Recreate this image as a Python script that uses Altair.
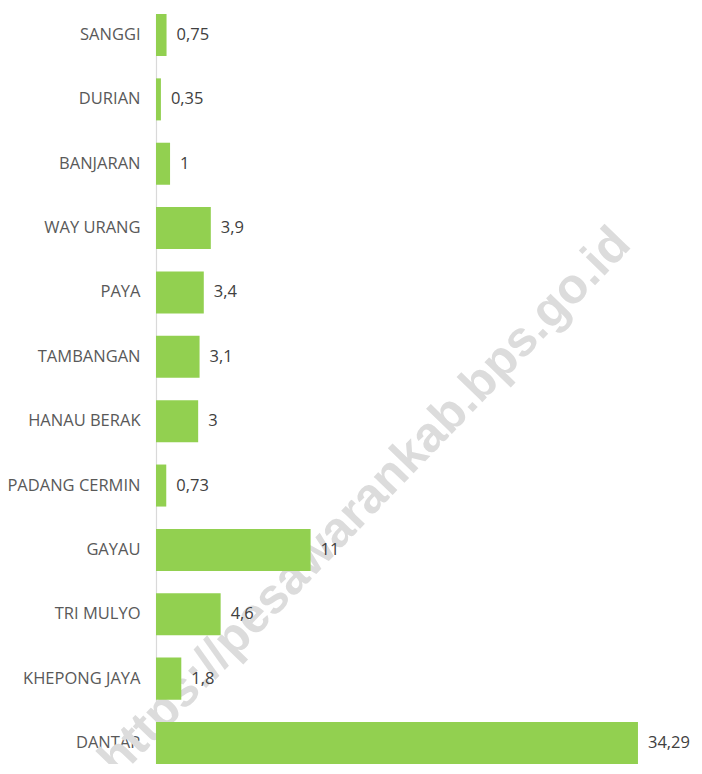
import altair as alt
import pandas as pd

categories = ["SANGGI", "DURIAN", "BANJARAN", "WAY URANG", "PAYA", "TAMBANGAN",
              "HANAU BERAK", "PADANG CERMIN", "GAYAU", "TRI MULYO", "KHEPONG JAYA", "DANTAR"]
values = [0.75, 0.35, 1, 3.9, 3.4, 3.1, 3, 0.73, 11, 4.6, 1.8, 34.29]
labels = [str(v).replace(".", ",") for v in values]
watermark = "https://pesawarankab.bps.go.id"

df = pd.DataFrame({"desa": categories, "nilai": values, "label": labels})
wm = pd.DataFrame({"t": [watermark]})

y_enc = alt.Y("desa:N", sort=categories, title=None,
              scale=alt.Scale(paddingInner=0.347, paddingOuter=0),
              axis=alt.Axis(ticks=False, labelPadding=16, labelFontSize=16.5,
                            labelFont="Open Sans", labelColor="#595959",
                            domainColor="#d9d9d9", domainWidth=1.2, labelLimit=300))
x_enc = alt.X("nilai:Q", title=None, scale=alt.Scale(domain=[0, 36], nice=False),
              axis=None)

water = alt.Chart(wm).mark_text(
    font="Liberation Sans", fontWeight="bold", fontSize=49.5, color="#dcdcdc",
    angle=314, align="center", baseline="middle"
).encode(x=alt.value(209), y=alt.value(488), text="t:N")

bars = alt.Chart(df).mark_bar(color="#92D050").encode(y=y_enc, x=x_enc)
text = alt.Chart(df).mark_text(align="left", baseline="middle", dx=10,
                               font="Open Sans", fontSize=16.5, color="#404040").encode(
    y=y_enc, x=x_enc, text="label:N")

chart = alt.layer(water, bars, text).properties(
    width=506, height=750,
    background="white",
    autosize=alt.AutoSizeParams(type="none"),
    padding={"left": 148, "top": 6, "right": 32, "bottom": 0},
).configure_view(strokeWidth=0, stroke="transparent")

chart.save("out.html", embed_options={"renderer": "svg", "actions": False})
